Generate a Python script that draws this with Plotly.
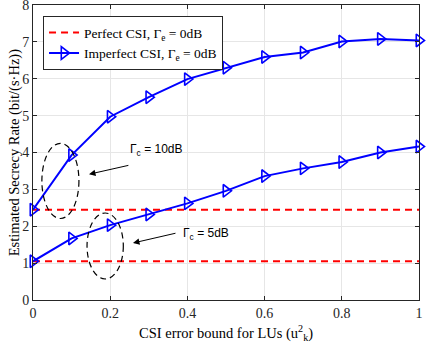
import plotly.graph_objects as go

# data
bound = [0, 0.1, 0.2, 0.3, 0.4, 0.5, 0.6, 0.7, 0.8, 0.9, 1.0]
imperfect_10db = [2.45, 3.93, 4.97, 5.50, 5.99, 6.30, 6.59, 6.71, 7.01, 7.08, 7.04]
imperfect_5db = [1.05, 1.67, 2.03, 2.32, 2.62, 2.96, 3.36, 3.57, 3.74, 4.00, 4.16]
perfect_10db = 2.45
perfect_5db = 1.05

SERIF = "Liberation Serif, Times New Roman, serif"
SANS = "Liberation Sans, Arial, sans-serif"
BLUE, RED = "#0000ff", "#ff0000"

fig = go.Figure()

# perfect CSI: flat dashed red lines
for i, val in enumerate([perfect_10db, perfect_5db]):
    fig.add_trace(go.Scatter(
        x=[bound[0], bound[-1]], y=[val, val], mode="lines",
        line=dict(color=RED, width=2, dash="7px,5px"),
        name="Perfect CSI, Γ<sub>e</sub> = 0dB", showlegend=(i == 0),
        legendgroup="perfect", cliponaxis=False,
    ))

# imperfect CSI curves
for i, ys in enumerate([imperfect_10db, imperfect_5db]):
    fig.add_trace(go.Scatter(
        x=bound, y=ys, mode="lines+markers",
        line=dict(color=BLUE, width=2),
        marker=dict(symbol="triangle-right-open", size=11, color=BLUE,
                    line=dict(width=1.6, color=BLUE)),
        name="Imperfect CSI, Γ<sub>e</sub> = 0dB", showlegend=(i == 0),
        legendgroup="imperfect", cliponaxis=False,
    ))

# dashed ellipses marking the curve groups
for x0, x1, y0, y1 in [(0.023, 0.119, 2.21, 4.25), (0.14, 0.234, 0.57, 2.36)]:
    fig.add_shape(type="circle", xref="x", yref="y", x0=x0, x1=x1, y0=y0, y1=y1,
                  line=dict(color="black", width=1.2, dash="6px,4px"))

# arrows + labels
for (hx, hy, tx, ty) in [(0.145, 3.41, 0.251, 3.66), (0.259, 1.545, 0.373, 1.82)]:
    fig.add_annotation(x=hx, y=hy, ax=tx, ay=ty, xref="x", yref="y",
                       axref="x", ayref="y", text="", showarrow=True,
                       arrowhead=2, arrowsize=1.3, arrowwidth=1, arrowcolor="black")
fig.add_annotation(x=0.32, y=4.08, text="Γ<sub>c</sub> = 10dB", showarrow=False,
                   font=dict(family=SANS, size=12, color="black"))
fig.add_annotation(x=0.447, y=1.78, text="Γ<sub>c</sub> = 5dB", showarrow=False,
                   font=dict(family=SANS, size=12, color="black"))

# axis titles placed by hand
fig.add_annotation(x=0.5, y=-0.112, xref="paper", yref="paper", showarrow=False,
                   xanchor="center", yanchor="middle",
                   text="CSI error bound for LUs (u<sup>2</sup><sub>k</sub>)",
                   font=dict(family=SERIF, size=14.5, color="black"))
fig.add_annotation(x=-0.047, y=0.5, xref="paper", yref="paper", showarrow=False,
                   xanchor="center", yanchor="middle",
                   textangle=-90, text="Estimated Secrecy Rate (bit/(s·Hz))",
                   font=dict(family=SERIF, size=14.5, color="black"))

axis_common = dict(
    showgrid=True, gridcolor="#e6e6e6", gridwidth=1, zeroline=False,
    showline=True, linecolor="#262626", linewidth=1, mirror="ticks",
    ticks="inside", ticklen=4, tickcolor="#262626", automargin=False,
    ticklabeloverflow="allow",
    tickfont=dict(family=SERIF, size=14, color="#262626"),
)
fig.update_xaxes(**axis_common, range=[0, 1], dtick=0.2)
fig.update_yaxes(**axis_common, range=[0, 8], dtick=1)

fig.update_layout(
    width=428, height=350,
    margin=dict(l=33, r=9, t=5, b=50),
    paper_bgcolor="white", plot_bgcolor="white",
    font=dict(family=SERIF, color="black"),
    legend=dict(x=0.026, y=0.962, xanchor="left", yanchor="top",
                bgcolor="white", bordercolor="#262626", borderwidth=1,
                font=dict(family=SERIF, size=13.5, color="black"),
                tracegroupgap=0),
)

fig.write_html("out.html", config={"displayModeBar": False},
               post_script="document.body.style.margin='0px';")
